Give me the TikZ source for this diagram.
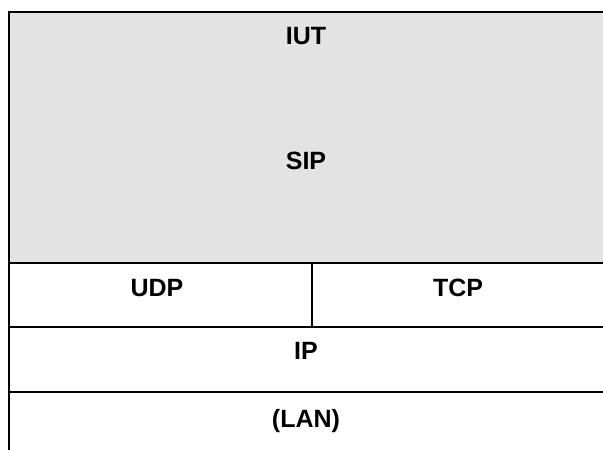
\documentclass[tikz,border=0pt]{standalone}
\usepackage{fontspec}
\setmainfont{Liberation Sans}
\definecolor{layergray}{HTML}{E3E3E3}
\tikzset{
  rule/.style={line width=2pt, draw=black},
  lbl/.style={font=\fontsize{25}{30}\selectfont\bfseries, anchor=base, inner sep=0pt}
}
\begin{document}
\begin{tikzpicture}[x=1pt,y=-1pt]
\useasboundingbox (0,0) rectangle (603,450);
\fill[layergray] (9,12) rectangle (603,263);
\draw[rule] (603,12) -- (9,12) -- (9,450);
\draw[rule] (9,263) -- (603,263);
\draw[rule] (9,327) -- (603,327);
\draw[rule] (9,392) -- (603,392);
\draw[rule] (312,263) -- (312,327);
\node[lbl] (iut) at (306,44.5) {IUT};
\node[lbl] (sip) at (306,169) {SIP};
\node[lbl] (udp) at (157,296) {UDP};
\node[lbl] (tcp) at (458,296) {TCP};
\node[lbl] (ip) at (306,359) {IP};
\node[lbl] (lan) at (306,427) {(LAN)};
\end{tikzpicture}
\end{document}
